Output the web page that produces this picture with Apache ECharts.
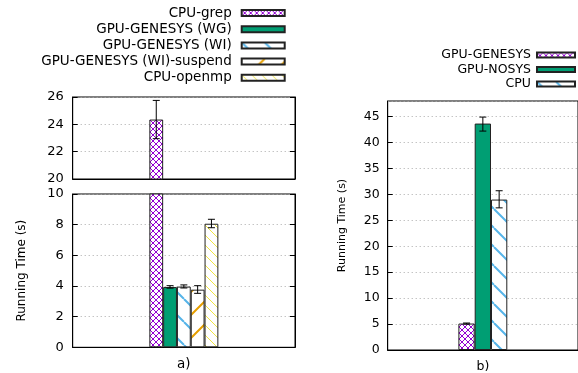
<!DOCTYPE html>
<html>
<head>
<meta charset="utf-8">
<script src="https://cdn.jsdelivr.net/npm/echarts@6/dist/echarts.min.js"></script>
<style>
  html, body { margin: 0; padding: 0; background: #fff; }
  #chart { width: 578px; height: 373px; }
</style>
</head>
<body>
<div id="chart"></div>
<script>
// a) left panel data
const leftCategory = ['a)'];
const leftNames = ['CPU-grep', 'GPU-GENESYS (WG)', 'GPU-GENESYS (WI)', 'GPU-GENESYS (WI)-suspend', 'CPU-openmp'];
const leftValues = [24.35, 3.93, 3.96, 3.76, 8.06];
const leftLow = [22.95, 3.86, 3.87, 3.52, 7.8];
const leftHigh = [25.75, 4.02, 4.07, 4.02, 8.35];
const leftTopTicks = [20, 26, 2];    // min, max, step
const leftBottomTicks = [0, 10, 2];

// b) right panel data
const rightCategory = ['b)'];
const rightNames = ['GPU-GENESYS', 'GPU-NOSYS', 'CPU'];
const rightValues = [5.1, 43.65, 29.0];
const rightLow = [5.0, 42.2, 27.4];
const rightHigh = [5.2, 44.9, 30.7];
const rightTicks = [0, 48, 5];

const FONT = 'DejaVu Sans';

// fill patterns like gnuplot's
function pattern(kind, color, size, lw) {
  const c = document.createElement('canvas');
  c.width = size; c.height = size;
  const ctx = c.getContext('2d');
  ctx.fillStyle = '#fff';
  ctx.fillRect(0, 0, size, size);
  ctx.strokeStyle = color;
  ctx.lineWidth = lw;
  ctx.beginPath();
  for (let k = -1; k <= 1; k++) {
    const o = k * size;
    if (kind === 'back' || kind === 'cross') {
      ctx.moveTo(o, 0); ctx.lineTo(o + size, size);
    }
    if (kind === 'fwd' || kind === 'cross') {
      ctx.moveTo(o, size); ctx.lineTo(o + size, 0);
    }
  }
  ctx.stroke();
  return { image: c, repeat: 'repeat' };
}

const leftFills = [
  pattern('cross', '#9400d3', 6, 1),
  '#009e73',
  pattern('back', '#56b4e9', 23, 2),
  pattern('fwd', '#e69f00', 23, 2),
  pattern('back', '#f0e442', 10, 1)
];
const rightFills = [
  pattern('cross', '#9400d3', 6, 1),
  '#009e73',
  pattern('back', '#56b4e9', 19, 2)
];

const leftBarW = 13.8;
const rightBarW = 16.3;

function bars(names, values, fills, barW, xi, yi) {
  return names.map((n, i) => ({
    name: n,
    type: 'bar',
    xAxisIndex: xi,
    yAxisIndex: yi,
    barWidth: barW,
    barGap: '0%',
    clip: true,
    silent: true,
    data: [values[i]],
    itemStyle: { color: fills[i], borderColor: '#222', borderWidth: 1 }
  }));
}

function errors(low, high, barW, xi, yi) {
  const n = low.length;
  return {
    type: 'custom',
    xAxisIndex: xi,
    yAxisIndex: yi,
    clip: true,
    silent: true,
    z: 10,
    encode: { x: 0, y: [1, 2] },
    data: low.map((l, i) => [0, l, high[i], i]),
    renderItem(params, api) {
      const i = api.value(3);
      const lo = api.coord([0, api.value(1)]);
      const hi = api.coord([0, api.value(2)]);
      const x = lo[0] + (i - (n - 1) / 2) * barW;
      const cap = 3.5;
      const st = { stroke: '#000', lineWidth: 1 };
      return {
        type: 'group',
        children: [
          { type: 'line', shape: { x1: x, y1: lo[1], x2: x, y2: hi[1] }, style: st },
          { type: 'line', shape: { x1: x - cap, y1: lo[1], x2: x + cap, y2: lo[1] }, style: st },
          { type: 'line', shape: { x1: x - cap, y1: hi[1], x2: x + cap, y2: hi[1] }, style: st }
        ]
      };
    }
  };
}

function yAxis(grid, ticks, size, extra) {
  return Object.assign({
    type: 'value',
    gridIndex: grid,
    min: ticks[0],
    max: ticks[1],
    interval: ticks[2],
    axisLine: { show: true, lineStyle: { color: '#000' } },
    axisTick: { show: true, inside: true, length: 5, lineStyle: { color: '#000' } },
    axisLabel: { color: '#000', fontFamily: FONT, fontSize: size, margin: 9 },
    splitLine: { show: true, lineStyle: { color: '#aaa', type: [1, 3] } }
  }, extra || {});
}

function mirror(grid, ticks) {
  return yAxis(grid, ticks, 12, {
    position: 'right',
    axisLabel: { show: false },
    splitLine: { show: false }
  });
}

function xAxis(grid, cats, size, showLabel) {
  return {
    type: 'category',
    gridIndex: grid,
    data: cats,
    axisLine: { show: true, lineStyle: { color: '#000' } },
    axisTick: { show: false },
    axisLabel: { show: showLabel, color: '#000', fontFamily: FONT, fontSize: size, margin: 10 }
  };
}

const chart = echarts.init(document.getElementById('chart'), null, { renderer: 'canvas' });

const frame = { show: true, borderColor: '#000', borderWidth: 1, backgroundColor: 'transparent' };

chart.setOption({
  animation: false,
  backgroundColor: '#fff',
  grid: [
    Object.assign({ left: 72.7, width: 222.3, top: 97, height: 82 }, frame),
    Object.assign({ left: 72.7, width: 222.3, top: 194, height: 153.3 }, frame),
    Object.assign({ left: 387.7, width: 196.6, top: 101, height: 249.3 }, frame)
  ],
  legend: [
    {
      data: leftNames,
      orient: 'vertical',
      right: 292.3,
      top: 4.9,
      padding: 0,
      align: 'right',
      icon: 'rect',
      itemWidth: 43,
      itemHeight: 6,
      itemGap: 0,
      selectedMode: false,
      textStyle: { color: '#000', fontFamily: FONT, fontSize: 13.5, lineHeight: 16.2, padding: [0, 5, 0, 0] }
    },
    {
      data: rightNames,
      orient: 'vertical',
      right: 2,
      top: 47.8,
      padding: 0,
      align: 'right',
      icon: 'rect',
      itemWidth: 38,
      itemHeight: 5,
      itemGap: 0,
      selectedMode: false,
      textStyle: { color: '#000', fontFamily: FONT, fontSize: 12.5, lineHeight: 14.5, padding: [0, 1, 0, 0] }
    }
  ],
  xAxis: [
    xAxis(0, leftCategory, 13.5, false),
    xAxis(1, leftCategory, 13.5, true),
    xAxis(2, rightCategory, 12.5, true)
  ],
  yAxis: [
    yAxis(0, leftTopTicks, 13),
    mirror(0, leftTopTicks),
    yAxis(1, leftBottomTicks, 13, {
      name: 'Running Time (s)',
      nameLocation: 'middle',
      nameGap: 45,
      nameTextStyle: { color: '#000', fontFamily: FONT, fontSize: 12 }
    }),
    mirror(1, leftBottomTicks),
    yAxis(2, rightTicks, 12.5, {
      name: 'Running Time (s)',
      nameLocation: 'middle',
      nameGap: 40,
      nameTextStyle: { color: '#000', fontFamily: FONT, fontSize: 11 },
      axisLabel: { color: '#000', fontFamily: FONT, fontSize: 12.5, margin: 8, showMaxLabel: false }
    })
  ],
  series: [].concat(
    bars(leftNames, leftValues, leftFills, leftBarW, 0, 0),
    bars(leftNames, leftValues, leftFills, leftBarW, 1, 2),
    bars(rightNames, rightValues, rightFills, rightBarW, 2, 4),
    [errors(leftLow, leftHigh, leftBarW, 0, 0),
     errors(leftLow, leftHigh, leftBarW, 1, 2),
     errors(rightLow, rightHigh, rightBarW, 2, 4)]
  )
});
</script>
</body>
</html>
